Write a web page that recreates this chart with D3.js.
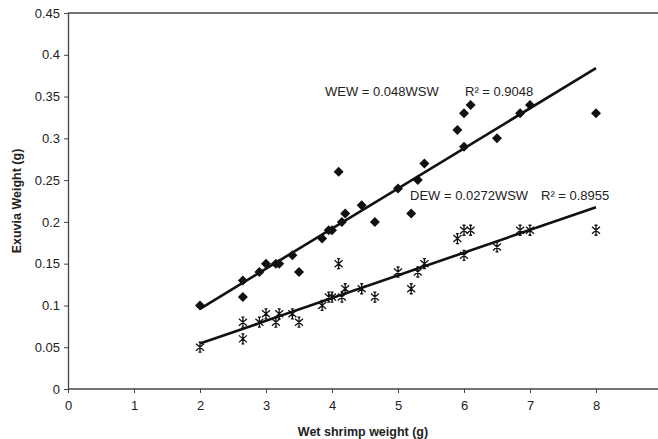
<!DOCTYPE html>
<html>
<head>
<meta charset="utf-8">
<script src="https://cdn.jsdelivr.net/npm/d3@7"></script>
<style>
  body { margin: 0; background: #fff; }
  svg { display: block; font-family: "Liberation Sans", Arial, sans-serif; }
</style>
</head>
<body>
<svg></svg>
<script>
// wet shrimp weight (g), shared by both series
const wsw = [2.0, 2.65, 2.65, 2.9, 3.0, 3.15, 3.2, 3.4, 3.5, 3.85, 3.95, 4.0, 4.1, 4.15, 4.2,
  4.45, 4.65, 5.0, 5.2, 5.3, 5.4, 5.9, 6.0, 6.1, 6.0, 6.5, 6.85, 7.0, 8.0];
// wet exuvia weight (diamonds)
const wew = [0.10, 0.13, 0.11, 0.14, 0.15, 0.15, 0.15, 0.16, 0.14, 0.18, 0.19, 0.19, 0.26, 0.20, 0.21,
  0.22, 0.20, 0.24, 0.21, 0.25, 0.27, 0.31, 0.33, 0.34, 0.29, 0.30, 0.33, 0.34, 0.33];
// dry exuvia weight (stars)
const dew = [0.05, 0.08, 0.06, 0.08, 0.09, 0.08, 0.09, 0.09, 0.08, 0.10, 0.11, 0.11, 0.15, 0.11, 0.12,
  0.12, 0.11, 0.14, 0.12, 0.14, 0.15, 0.18, 0.19, 0.19, 0.16, 0.17, 0.19, 0.19, 0.19];

const wewSlope = 0.048, wewR2 = "0.9048";
const dewSlope = 0.0272, dewR2 = "0.8955";

const xTicks = [0, 1, 2, 3, 4, 5, 6, 7, 8];
const yTicks = [0, 0.05, 0.1, 0.15, 0.2, 0.25, 0.3, 0.35, 0.4, 0.45];

const width = 658, height = 439;

const svg = d3.select('svg')
  .attr('width', width)
  .attr('height', height);

const x = d3.scaleLinear().domain([0, 9]).range([68, 662]);
const y = d3.scaleLinear().domain([0, 0.45]).range([389, 13]);

// top border
svg.append('line')
  .attr('x1', x(0)).attr('x2', width)
  .attr('y1', y(0.45)).attr('y2', y(0.45))
  .attr('stroke', '#444').attr('stroke-width', 1.3);

const xAxis = svg.append('g')
  .attr('transform', `translate(0,${y(0)})`)
  .call(d3.axisBottom(x).tickValues(xTicks).tickSize(4).tickSizeOuter(0).tickPadding(8)
    .tickFormat(d3.format('d')));

const yAxis = svg.append('g')
  .attr('transform', `translate(${x(0)},0)`)
  .call(d3.axisLeft(y).tickValues(yTicks).tickSize(4).tickSizeOuter(0).tickPadding(4)
    .tickFormat(d => d === 0 ? '0' : String(+d.toFixed(2))));

[xAxis, yAxis].forEach(g => {
  g.select('.domain').attr('stroke', '#444').attr('stroke-width', 1.3);
  g.selectAll('.tick line').attr('stroke', '#444').attr('stroke-width', 1);
  g.selectAll('.tick text')
    .attr('fill', '#222')
    .style('font-size', '13px')
    .style('font-family', '"Liberation Sans", Arial, sans-serif');
});
xAxis.select('.domain').attr('d', `M${x(0)},0H${width}`);

// axis titles
svg.append('text')
  .attr('x', 363).attr('y', 436)
  .attr('text-anchor', 'middle')
  .style('font-size', '12.5px').style('font-weight', 'bold')
  .attr('fill', '#222')
  .text('Wet shrimp weight (g)');

svg.append('text')
  .attr('transform', `translate(21,${(y(0) + y(0.45)) / 2}) rotate(-90)`)
  .attr('text-anchor', 'middle')
  .style('font-size', '12.5px').style('font-weight', 'bold')
  .attr('fill', '#222')
  .text('Exuvia Weight (g)');

// regression lines through origin, across the data range
const xMin = d3.min(wsw), xMax = d3.max(wsw);
[wewSlope, dewSlope].forEach(s => {
  svg.append('line')
    .attr('x1', x(xMin)).attr('y1', y(s * xMin))
    .attr('x2', x(xMax)).attr('y2', y(s * xMax))
    .attr('stroke', '#111').attr('stroke-width', 2.6);
});

// diamonds
svg.append('g')
  .selectAll('path')
  .data(wsw.map((d, i) => [d, wew[i]]))
  .enter().append('path')
    .attr('d', 'M0,-5L5,0L0,5L-5,0Z')
    .attr('transform', d => `translate(${x(d[0])},${y(d[1])})`)
    .attr('fill', '#111');

// stars
svg.append('g')
  .selectAll('path')
  .data(wsw.map((d, i) => [d, dew[i]]))
  .enter().append('path')
    .attr('d', 'M-4,-3.5L4,3.5M-4,3.5L4,-3.5M0,-5V5M-1.5,-5H1.5M-1.5,5H1.5')
    .attr('transform', d => `translate(${x(d[0])},${y(d[1])})`)
    .attr('fill', 'none')
    .attr('stroke', '#111')
    .attr('stroke-width', 1.3);

// equation labels
function addLabel(tx, ty, eq, rx, r2) {
  const g = svg.append('g').style('font-size', '13px').attr('fill', '#222');
  g.append('text').attr('x', tx).attr('y', ty).text(eq);
  g.append('text').attr('x', rx).attr('y', ty).text('R² ' + '= ' + r2);
}
addLabel(325, 96, `WEW = ${wewSlope}WSW`, 465, wewR2);
addLabel(410, 200, `DEW = ${dewSlope}WSW`, 541, dewR2);
</script>
</body>
</html>
